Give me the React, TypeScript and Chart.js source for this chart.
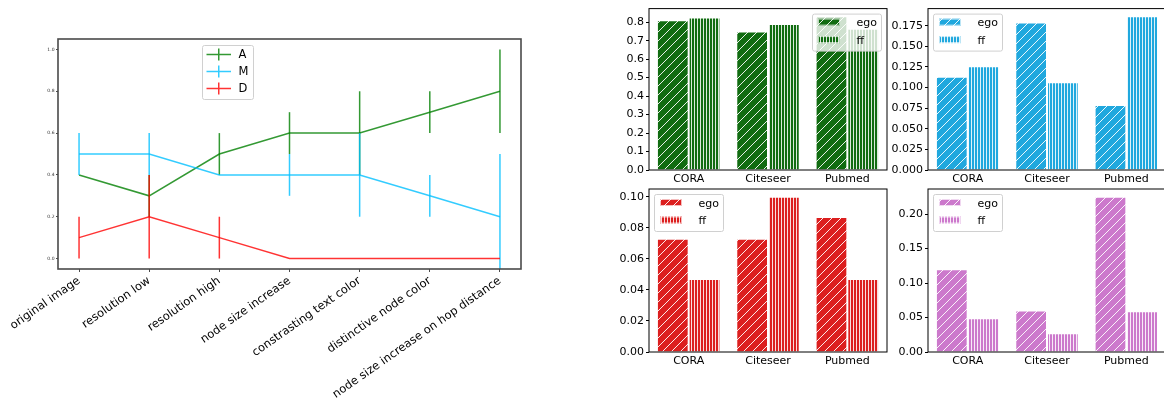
import React, { useEffect, useRef } from 'react';
import { Chart, registerables } from 'chart.js';

Chart.register(...registerables);

const FONT = "'DejaVu Sans', sans-serif";

// ---------- left chart data ----------
const conditionLabels = [
  'original image',
  'resolution low',
  'resolution high',
  'node size increase',
  'constrasting text color',
  'distinctive node color',
  'node size increase on hop distance',
];
const seriesNames = ['A', 'M', 'D'];
const aValues = [0.4, 0.3, 0.5, 0.6, 0.6, 0.7, 0.8];
const aErrors = [0, 0.1, 0.1, 0.1, 0.2, 0.1, 0.2];
const mValues = [0.5, 0.5, 0.4, 0.4, 0.4, 0.3, 0.2];
const mErrors = [0.1, 0.1, 0, 0.1, 0.2, 0.1, 0.3];
const dValues = [0.1, 0.2, 0.1, 0, 0, 0, 0];
const dErrors = [0.1, 0.2, 0.1, 0, 0, 0, 0];
const lineYTicks = [0, 0.2, 0.4, 0.6, 0.8, 1.0];
const seriesColors = ['rgba(0,128,0,0.8)', 'rgba(0,191,255,0.8)', 'rgba(255,0,0,0.8)'];

// ---------- bar chart data ----------
const benchmarks = ['CORA', 'Citeseer', 'Pubmed'];
const barSeries = ['ego', 'ff'];
const greenEgo = [0.81, 0.75, 0.832];
const greenFf = [0.826, 0.79, 0.764];
const greenTicks = [0, 0.1, 0.2, 0.3, 0.4, 0.5, 0.6, 0.7, 0.8];
const blueEgo = [0.113, 0.179, 0.079];
const blueFf = [0.126, 0.1065, 0.1865];
const blueTicks = [0, 0.025, 0.05, 0.075, 0.1, 0.125, 0.15, 0.175];
const redEgo = [0.073, 0.073, 0.087];
const redFf = [0.047, 0.1, 0.047];
const redTicks = [0, 0.02, 0.04, 0.06, 0.08, 0.1];
const pinkEgo = [0.12, 0.06, 0.225];
const pinkFf = [0.049, 0.027, 0.059];
const pinkTicks = [0, 0.05, 0.1, 0.15, 0.2];

function makeHatch(color: string, kind: 'diag' | 'vert'): CanvasPattern | string {
  const c = document.createElement('canvas');
  const s = kind === 'diag' ? 9 : 3;
  c.width = s;
  c.height = s;
  const g = c.getContext('2d');
  if (!g) return color;
  g.fillStyle = color;
  g.fillRect(0, 0, s, s);
  if (kind === 'diag') {
    g.strokeStyle = 'rgba(255,255,255,0.9)';
    g.lineWidth = 1;
    g.beginPath();
    g.moveTo(-1, s + 1);
    g.lineTo(s + 1, -1);
    g.moveTo(-2, 2);
    g.lineTo(2, -2);
    g.moveTo(s - 2, s + 2);
    g.lineTo(s + 2, s - 2);
    g.stroke();
  } else {
    g.fillStyle = 'rgba(255,255,255,0.85)';
    g.fillRect(1, 0, 1, s);
  }
  return g.createPattern(c, 'repeat') || color;
}

const lineChartPlugin = {
  id: 'lineExtras',
  afterDatasetDraw(chart: any, args: any) {
    const ds = chart.data.datasets[args.index];
    const errs: number[] = ds.errors;
    if (!errs) return;
    const { ctx, chartArea: a } = chart;
    const xs = chart.scales.x;
    const ys = chart.scales.y;
    ctx.save();
    ctx.beginPath();
    ctx.rect(a.left, a.top, a.right - a.left, a.bottom - a.top);
    ctx.clip();
    ctx.strokeStyle = ds.borderColor;
    ctx.lineWidth = 1.5;
    ds.data.forEach((p: any, i: number) => {
      const e = errs[i];
      if (!e) return;
      const x = xs.getPixelForValue(p.x);
      ctx.beginPath();
      ctx.moveTo(x, ys.getPixelForValue(p.y - e));
      ctx.lineTo(x, ys.getPixelForValue(p.y + e));
      ctx.stroke();
    });
    ctx.restore();
  },
  afterDraw(chart: any) {
    const { ctx, chartArea: a } = chart;
    ctx.save();
    ctx.strokeStyle = '#4a4a4a';
    ctx.lineWidth = 1.6;
    ctx.strokeRect(a.left, a.top, a.right - a.left, a.bottom - a.top);
    // legend
    const bx = 202.5, by = 45.5, bw = 51, bh = 54;
    ctx.fillStyle = 'rgba(255,255,255,0.8)';
    ctx.strokeStyle = '#d0d0d0';
    ctx.lineWidth = 1;
    ctx.beginPath();
    (ctx as any).roundRect(bx, by, bw, bh, 2);
    ctx.fill();
    ctx.stroke();
    seriesNames.forEach((name, i) => {
      const cy = 54.5 + i * 17;
      ctx.strokeStyle = seriesColors[i];
      ctx.lineWidth = 1.5;
      ctx.beginPath();
      ctx.moveTo(206.5, cy);
      ctx.lineTo(231, cy);
      ctx.moveTo(218.75, cy - 6);
      ctx.lineTo(218.75, cy + 6);
      ctx.stroke();
      ctx.fillStyle = '#000';
      ctx.font = `11.5px ${FONT}`;
      ctx.textBaseline = 'middle';
      ctx.textAlign = 'left';
      ctx.fillText(name, 238.5, cy + 0.5);
    });
    ctx.restore();
  },
};

const barChartPlugin = {
  id: 'barExtras',
  afterDraw(chart: any, _args: any, opts: any) {
    const { ctx, chartArea: a } = chart;
    ctx.save();
    ctx.strokeStyle = '#000';
    ctx.lineWidth = 1;
    ctx.strokeRect(a.left, a.top, a.right - a.left, a.bottom - a.top);
    const bw = 69, bh = 37;
    const bx = opts.pos === 'right' ? a.right - 6 - bw : a.left + 5;
    const by = a.top + 5;
    ctx.fillStyle = 'rgba(255,255,255,0.8)';
    ctx.strokeStyle = '#d0d0d0';
    ctx.beginPath();
    (ctx as any).roundRect(bx + 0.5, by + 0.5, bw, bh, 2);
    ctx.fill();
    ctx.stroke();
    chart.data.datasets.forEach((ds: any, i: number) => {
      const cy = by + 8.5 + i * 17.5;
      ctx.fillStyle = ds.backgroundColor;
      ctx.fillRect(bx + 6, cy - 3.5, 22, 7);
      ctx.strokeStyle = 'rgba(255,255,255,0.7)';
      ctx.strokeRect(bx + 6.5, cy - 3, 21, 6);
      ctx.fillStyle = '#000';
      ctx.font = `11px ${FONT}`;
      ctx.textBaseline = 'middle';
      ctx.textAlign = 'left';
      ctx.fillText(ds.label, bx + 44.5, cy + 1.5);
    });
    ctx.restore();
  },
};

type BarSpec = {
  ego: number[];
  ff: number[];
  ticks: number[];
  decimals: number;
  color: string;
  legendPos: 'left' | 'right';
  padTop: number;
  padRight: number;
  yWidth: number;
  xHeight: number;
};

function barConfig(spec: BarSpec): any {
  const egoPat = makeHatch(spec.color, 'diag');
  const ffPat = makeHatch(spec.color, 'vert');
  const ymax = Math.max(...spec.ego, ...spec.ff) * 1.05;
  return {
    type: 'bar',
    data: {
      labels: benchmarks,
      datasets: [
        {
          label: barSeries[0],
          data: spec.ego,
          backgroundColor: egoPat,
          borderColor: 'rgba(255,255,255,0.6)',
          borderWidth: 1,
          categoryPercentage: 0.8,
          barPercentage: 1,
        },
        {
          label: barSeries[1],
          data: spec.ff,
          backgroundColor: ffPat,
          borderColor: 'rgba(255,255,255,0.6)',
          borderWidth: 1,
          categoryPercentage: 0.8,
          barPercentage: 1,
        },
      ],
    },
    options: {
      animation: false,
      responsive: false,
      devicePixelRatio: 1,
      layout: { padding: { top: spec.padTop, right: spec.padRight, left: 0, bottom: 0 } },
      plugins: {
        legend: { display: false },
        tooltip: { enabled: false },
        barExtras: { pos: spec.legendPos },
      },
      scales: {
        x: {
          grid: { display: false, drawTicks: false },
          border: { display: false },
          ticks: { font: { family: FONT, size: 11 }, color: '#000', padding: 3 },
          afterFit: (s: any) => {
            s.height = spec.xHeight;
          },
        },
        y: {
          min: 0,
          max: ymax,
          grid: { drawOnChartArea: false, drawTicks: true, tickLength: 3, color: '#000' },
          border: { display: false },
          ticks: {
            font: { family: FONT, size: 11 },
            color: '#000',
            padding: 2,
            callback: (v: any) => Number(v).toFixed(spec.decimals),
          },
          afterBuildTicks: (s: any) => {
            s.ticks = spec.ticks.map((v) => ({ value: v }));
          },
          afterFit: (s: any) => {
            s.width = spec.yWidth;
          },
        },
      },
    },
    plugins: [barChartPlugin],
  };
}

function lineConfig(): any {
  const vals = [aValues, mValues, dValues];
  const errs = [aErrors, mErrors, dErrors];
  return {
    type: 'line',
    data: {
      datasets: seriesNames.map((name, k) => ({
        label: name,
        data: vals[k].map((v, i) => ({ x: i, y: v })),
        errors: errs[k],
        borderColor: seriesColors[k],
        backgroundColor: seriesColors[k],
        borderWidth: 1.5,
        pointRadius: 0,
        tension: 0,
        fill: false,
        order: 3 - k,
      })),
    },
    options: {
      animation: false,
      responsive: false,
      devicePixelRatio: 1,
      layout: { padding: { top: 39, right: 39, left: 0, bottom: 0 } },
      plugins: { legend: { display: false }, tooltip: { enabled: false } },
      scales: {
        x: {
          type: 'linear',
          min: -0.3,
          max: 6.3,
          grid: { drawOnChartArea: false, drawTicks: true, tickLength: 3, color: '#4a4a4a' },
          border: { display: false },
          ticks: {
            font: { family: FONT, size: 11.5 },
            color: '#000',
            minRotation: 35,
            maxRotation: 35,
            autoSkip: false,
            padding: 2,
            callback: (v: any) => conditionLabels[Math.round(Number(v))],
          },
          afterBuildTicks: (s: any) => {
            s.ticks = conditionLabels.map((_, i) => ({ value: i }));
          },
          afterFit: (s: any) => {
            s.height = 130;
          },
        },
        y: {
          min: -0.05,
          max: 1.05,
          grid: { drawOnChartArea: false, drawTicks: true, tickLength: 2, color: '#4a4a4a' },
          border: { display: false },
          ticks: {
            font: { family: FONT, size: 4.5 },
            color: '#333',
            padding: 1.5,
            callback: (v: any) => Number(v).toFixed(1),
          },
          afterBuildTicks: (s: any) => {
            s.ticks = lineYTicks.map((v) => ({ value: v }));
          },
          afterFit: (s: any) => {
            s.width = 58;
          },
        },
      },
    },
    plugins: [lineChartPlugin],
  };
}

function ChartCanvas(props: { left: number; top: number; width: number; height: number; make: () => any }) {
  const ref = useRef<HTMLCanvasElement>(null);
  useEffect(() => {
    if (!ref.current) return;
    const chart = new Chart(ref.current, props.make());
    return () => chart.destroy();
  }, []);
  return (
    <canvas
      ref={ref}
      width={props.width}
      height={props.height}
      style={{
        position: 'absolute',
        left: props.left,
        top: props.top,
        width: props.width,
        height: props.height,
      }}
    />
  );
}

export default function App() {
  Chart.defaults.font.family = FONT;
  return (
    <div
      style={{
        position: 'absolute',
        left: 0,
        top: 0,
        width: 1164,
        height: 399,
        overflow: 'hidden',
        background: '#fff',
      }}
    >
      <ChartCanvas left={0} top={0} width={560} height={399} make={lineConfig} />
      <ChartCanvas
        left={600}
        top={0}
        width={290}
        height={186}
        make={() =>
          barConfig({
            ego: greenEgo, ff: greenFf, ticks: greenTicks, decimals: 1, color: '#116c11',
            legendPos: 'right', padTop: 7, padRight: 3, yWidth: 49, xHeight: 16,
          })
        }
      />
      <ChartCanvas
        left={880}
        top={0}
        width={300}
        height={186}
        make={() =>
          barConfig({
            ego: blueEgo, ff: blueFf, ticks: blueTicks, decimals: 3, color: '#20a8de',
            legendPos: 'left', padTop: 7, padRight: 14, yWidth: 48, xHeight: 16,
          })
        }
      />
      <ChartCanvas
        left={600}
        top={180}
        width={290}
        height={190}
        make={() =>
          barConfig({
            ego: redEgo, ff: redFf, ticks: redTicks, decimals: 2, color: '#dc1f1f',
            legendPos: 'left', padTop: 9, padRight: 3, yWidth: 49, xHeight: 18,
          })
        }
      />
      <ChartCanvas
        left={880}
        top={180}
        width={300}
        height={190}
        make={() =>
          barConfig({
            ego: pinkEgo, ff: pinkFf, ticks: pinkTicks, decimals: 2, color: '#cc79cc',
            legendPos: 'left', padTop: 9, padRight: 14, yWidth: 48, xHeight: 18,
          })
        }
      />
    </div>
  );
}
